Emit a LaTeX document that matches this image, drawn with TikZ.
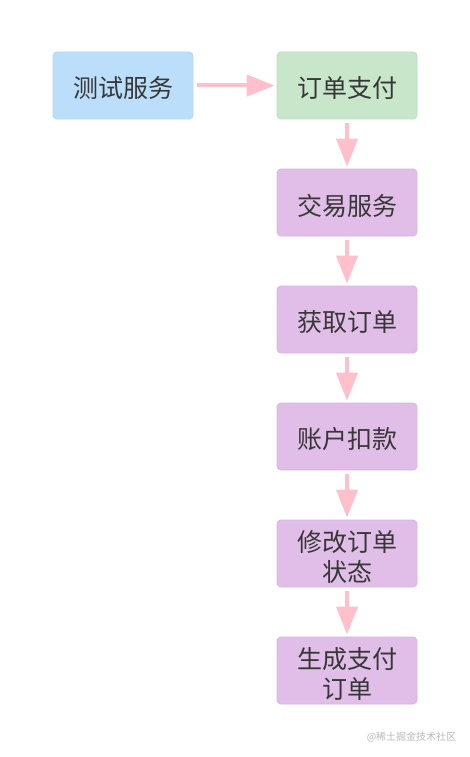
\documentclass[tikz,border=0pt]{standalone}
\usepackage{fontspec}
\setmainfont{Noto Sans CJK SC}
\usetikzlibrary{arrows.meta}
\definecolor{bluefill}{RGB}{187,222,251}
\definecolor{blueline}{RGB}{176,214,247}
\definecolor{greenfill}{RGB}{200,230,201}
\definecolor{greenline}{RGB}{190,222,191}
\definecolor{purplefill}{RGB}{225,190,231}
\definecolor{purpleline}{RGB}{216,180,223}
\definecolor{pinkarrow}{RGB}{255,192,203}
\definecolor{textgray}{RGB}{55,55,55}
\definecolor{wmgray}{RGB}{185,185,185}
\tikzset{
  box/.style={rectangle, rounded corners=4pt, minimum width=140pt, minimum height=67pt,
    inner sep=0pt, line width=0.8pt},
  bluebox/.style={box, fill=bluefill, draw=blueline},
  greenbox/.style={box, fill=greenfill, draw=greenline},
  purplebox/.style={box, fill=purplefill, draw=purpleline},
  boxtext/.style={inner sep=0pt, align=center, text=textgray,
    font=\fontsize{25}{30}\selectfont},
  arr/.style={draw=pinkarrow, line width=4pt, -{Triangle[length=28pt,width=21pt]},
    shorten <=4pt, shorten >=2pt},
}
\begin{document}
\begin{tikzpicture}[x=1pt,y=-1pt]
\useasboundingbox (0,0) rectangle (470,757);
\node[bluebox] (test) at (123,85.5) {};
\node[greenbox] (pay) at (347,85.5) {};
\node[purplebox] (trade) at (347,202.5) {};
\node[purplebox] (get) at (347,319.5) {};
\node[purplebox] (deduct) at (347,436.5) {};
\node[purplebox] (modify) at (347,553.5) {};
\node[purplebox] (gen) at (347,670.5) {};
\node[boxtext] (testT) at ([yshift=-3pt]test.center) {测试服务};
\node[boxtext] (payT) at ([yshift=-3pt]pay.center) {订单支付};
\node[boxtext] (tradeT) at ([yshift=-3pt]trade.center) {交易服务};
\node[boxtext] (getT) at ([yshift=-3pt]get.center) {获取订单};
\node[boxtext] (deductT) at ([yshift=-3pt]deduct.center) {账户扣款};
\node[boxtext] (modifyT) at ([yshift=-3pt]modify.center) {修改订单\\状态};
\node[boxtext] (genT) at ([yshift=-3pt]gen.center) {生成支付\\订单};
\draw[arr] (test.east) -- (pay.west);
\draw[arr] (pay.south) -- (trade.north);
\draw[arr] (trade.south) -- (get.north);
\draw[arr] (get.south) -- (deduct.north);
\draw[arr] (deduct.south) -- (modify.north);
\draw[arr] (modify.south) -- (gen.north);
\node[text=wmgray, font=\fontsize{10}{12}\selectfont, inner sep=0pt] (wm) at (411.5,737) {@稀土掘金技术社区};
\end{tikzpicture}
\end{document}
